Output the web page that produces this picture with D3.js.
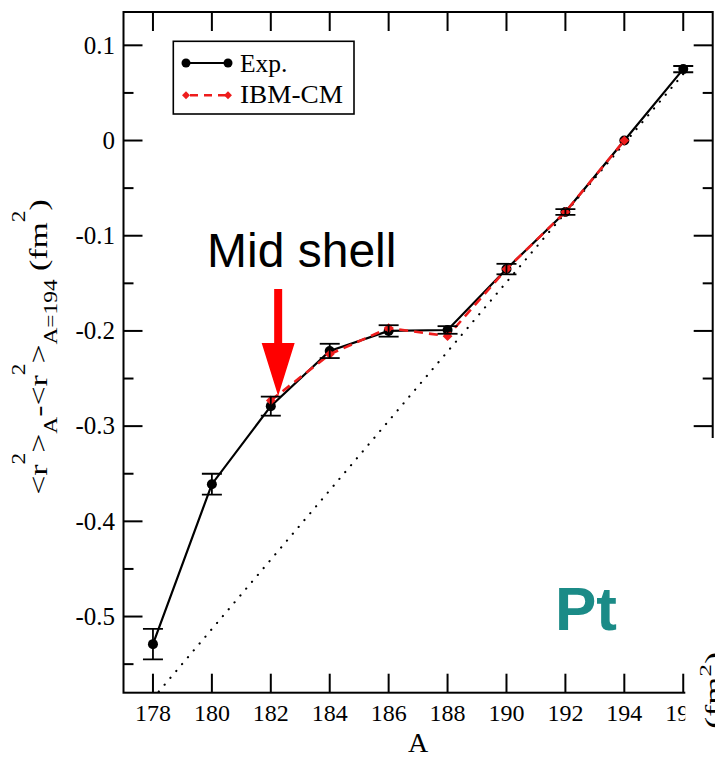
<!DOCTYPE html>
<html>
<head>
<meta charset="utf-8">
<script src="https://cdn.jsdelivr.net/npm/d3@7/dist/d3.min.js"></script>
<style>
  html, body { margin: 0; padding: 0; background: #fff; }
  svg { display: block; }
</style>
</head>
<body>
<svg id="chart" width="715" height="757"></svg>
<script>
// Mass numbers and measured charge-radius differences (relative to A = 194)
const massNumbers = [178, 180, 182, 184, 186, 188, 190, 192, 194, 196];
const expValues   = [-0.529, -0.361, -0.279, -0.221, -0.200, -0.199, -0.135, -0.075, 0.0, 0.075];
const expErrors   = [0.016, 0.011, 0.010, 0.0075, 0.006, 0.004, 0.0055, 0.003, 0.0, 0.0033];

// IBM-CM calculation
const ibmMass   = [182, 184, 186, 188, 190, 192, 194];
const ibmValues = [-0.273, -0.2245, -0.197, -0.2055, -0.135, -0.075, 0.0];

// Linear reference trend (dotted)
const trendMass   = [178, 196];
const trendValues = [-0.586, 0.0698];

// Axis ticks
const xTicks = [178, 180, 182, 184, 186, 188, 190, 192, 194, 196];
const yMajorTicks = [-0.5, -0.4, -0.3, -0.2, -0.1, 0, 0.1];
const yMajorLabels = ["-0.5", "-0.4", "-0.3", "-0.2", "-0.1", "0", "0.1"];
const yMinorTicks = [-0.55, -0.45, -0.35, -0.25, -0.15, -0.05, 0.05];

// Arrow annotation at mid shell (A, tail, head start, tip)
const arrowMass = 182.25;
const arrowValues = { tail: -0.156, headTop: -0.2127, tip: -0.2684 };

(function draw() {
const svg = d3.select("#chart");
const serif = "'Liberation Serif', 'Times New Roman', serif";
const sans = "'Liberation Sans', Arial, sans-serif";
const red = "#ee1c1c";

const pL = 123.5, pR = 712.7, pT = 12, pB = 692.7;
const x = d3.scaleLinear().domain([177, 197]).range([pL, pR]);
const y = d3.scaleLinear().domain([-0.58, 0.135]).range([pB, pT]);

svg.append("defs").append("clipPath").attr("id", "plotClip")
  .append("rect").attr("x", pL).attr("y", pT)
  .attr("width", pR - pL).attr("height", pB - pT);

const plot = svg.append("g").attr("clip-path", "url(#plotClip)");

// dotted linear trend
plot.append("path")
  .datum(trendMass.map((a, i) => [a, trendValues[i]]))
  .attr("d", d3.line().x(d => x(d[0])).y(d => y(d[1])))
  .attr("fill", "none").attr("stroke", "#000").attr("stroke-width", 2.2)
  .attr("stroke-linecap", "round").attr("stroke-dasharray", "0.1,8.9");

// experimental line
const expData = massNumbers.map((a, i) => ({ a, v: expValues[i], e: expErrors[i] }));
plot.append("path").datum(expData)
  .attr("d", d3.line().x(d => x(d.a)).y(d => y(d.v)))
  .attr("fill", "none").attr("stroke", "#000").attr("stroke-width", 2.2);

plot.selectAll("circle.exp").data(expData).enter().append("circle")
  .attr("class", "exp").attr("cx", d => x(d.a)).attr("cy", d => y(d.v))
  .attr("r", 5).attr("fill", "#000");

// IBM-CM dashed line with diamonds
const ibmData = ibmMass.map((a, i) => ({ a, v: ibmValues[i] }));
plot.append("path").datum(ibmData)
  .attr("d", d3.line().x(d => x(d.a)).y(d => y(d.v)))
  .attr("fill", "none").attr("stroke", red).attr("stroke-width", 2.6)
  .attr("stroke-dasharray", "9,6");

const diamond = d3.symbol().type(d3.symbolDiamond2).size(60);
plot.selectAll("path.ibm").data(ibmData).enter().append("path")
  .attr("class", "ibm").attr("d", diamond)
  .attr("transform", d => `translate(${x(d.a)},${y(d.v)})`)
  .attr("fill", red);

// error bars
const eb = plot.selectAll("g.eb").data(expData.filter(d => d.e > 0)).enter().append("g");
eb.append("line")
  .attr("x1", d => x(d.a)).attr("x2", d => x(d.a))
  .attr("y1", d => y(d.v + d.e)).attr("y2", d => y(d.v - d.e))
  .attr("stroke", "#000").attr("stroke-width", 1.8);
[1, -1].forEach(s => {
  eb.append("line")
    .attr("x1", d => x(d.a) - 10).attr("x2", d => x(d.a) + 10)
    .attr("y1", d => y(d.v + s * d.e)).attr("y2", d => y(d.v + s * d.e))
    .attr("stroke", "#000").attr("stroke-width", 1.8);
});

// frame and ticks
svg.append("rect").attr("x", pL).attr("y", pT)
  .attr("width", pR - pL).attr("height", pB - pT)
  .attr("fill", "none").attr("stroke", "#000").attr("stroke-width", 2);

const ticks = svg.append("g").attr("stroke", "#000").attr("stroke-width", 2);
xTicks.forEach(t => {
  ticks.append("line").attr("x1", x(t)).attr("x2", x(t)).attr("y1", pB).attr("y2", pB - 19);
  ticks.append("line").attr("x1", x(t)).attr("x2", x(t)).attr("y1", pT).attr("y2", pT + 19);
});
yMajorTicks.forEach(t => {
  ticks.append("line").attr("x1", pL).attr("x2", pL + 19).attr("y1", y(t)).attr("y2", y(t));
  ticks.append("line").attr("x1", pR).attr("x2", pR - 19).attr("y1", y(t)).attr("y2", y(t));
});
yMinorTicks.forEach(t => {
  ticks.append("line").attr("x1", pL).attr("x2", pL + 10).attr("y1", y(t)).attr("y2", y(t));
  ticks.append("line").attr("x1", pR).attr("x2", pR - 10).attr("y1", y(t)).attr("y2", y(t));
});

// tick labels
svg.append("g").selectAll("text").data(xTicks).enter().append("text")
  .attr("x", d => x(d)).attr("y", 721)
  .attr("text-anchor", "middle").attr("font-family", serif).attr("font-size", 24)
  .text(d => d);

svg.append("g").selectAll("text").data(yMajorTicks).enter().append("text")
  .attr("x", pL - 8.5).attr("y", d => y(d) + 8.3)
  .attr("text-anchor", "end").attr("font-family", serif).attr("font-size", 25)
  .text((d, i) => yMajorLabels[i]);

// x axis title
svg.append("text").attr("x", (pL + pR) / 2).attr("y", 752)
  .attr("text-anchor", "middle").attr("font-family", serif).attr("font-size", 28)
  .text("A");

// y axis title: <r²>_A - <r²>_{A=194} (fm²)
function radiusLabel(g, parts) {
  const t = g.append("text").attr("font-family", serif).attr("text-anchor", "middle").attr("fill", "#000");
  parts.forEach(p => {
    t.append("tspan").attr("font-size", p.size).attr("dy", p.dy).text(p.s);
  });
  return t;
}
const yTitle = svg.append("g").attr("transform", "translate(47,347) rotate(-90) scale(1.3,1)");
radiusLabel(yTitle, [
  { s: "<r", size: 26, dy: 0 },
  { s: "2", size: 18, dy: -22 },
  { s: ">", size: 26, dy: 22 },
  { s: "A", size: 18, dy: 10 },
  { s: "-<r", size: 26, dy: -10 },
  { s: "2", size: 18, dy: -22 },
  { s: ">", size: 26, dy: 22 },
  { s: "A=194", size: 18, dy: 10 },
  { s: " (fm", size: 26, dy: -10 },
  { s: "2", size: 18, dy: -22 },
  { s: ")", size: 26, dy: 22 }
]);

// legend
const lg = svg.append("g");
lg.append("rect").attr("x", 173.3).attr("y", 41.3).attr("width", 180.7).attr("height", 72.7)
  .attr("fill", "#fff").attr("stroke", "#000").attr("stroke-width", 1.6);
lg.append("line").attr("x1", 186).attr("x2", 228).attr("y1", 63).attr("y2", 63)
  .attr("stroke", "#000").attr("stroke-width", 2.2);
[186, 228].forEach(cx => lg.append("circle").attr("cx", cx).attr("cy", 63).attr("r", 4.5).attr("fill", "#000"));
lg.append("line").attr("x1", 186).attr("x2", 228).attr("y1", 95.3).attr("y2", 95.3)
  .attr("stroke", red).attr("stroke-width", 2.6).attr("stroke-dasharray", "8,6").attr("stroke-dashoffset", -4);
[186, 228].forEach(cx => lg.append("path").attr("d", d3.symbol().type(d3.symbolDiamond2).size(40))
  .attr("transform", `translate(${cx},95.3)`).attr("fill", red));
lg.append("text").attr("x", 240).attr("y", 71.5).attr("font-family", serif).attr("font-size", 25.5).text("Exp.");
lg.append("text").attr("x", 240).attr("y", 103.3).attr("font-family", serif).attr("font-size", 25.5)
  .attr("transform", "translate(240,103.3) scale(1.07,1) translate(-240,-103.3)").text("IBM-CM");

// mid-shell annotation
svg.append("text").attr("x", 207).attr("y", 267).attr("font-family", sans).attr("font-size", 48)
  .attr("fill", "#000").text("Mid shell");
const ax = x(arrowMass);
const shaftHalf = 4, headHalf = 16.5;
svg.append("path")
  .attr("d", `M${ax - shaftHalf},${y(arrowValues.tail)} L${ax + shaftHalf},${y(arrowValues.tail)}` +
             ` L${ax + shaftHalf},${y(arrowValues.headTop)} L${ax + headHalf},${y(arrowValues.headTop)}` +
             ` L${ax},${y(arrowValues.tip)} L${ax - headHalf},${y(arrowValues.headTop)}` +
             ` L${ax - shaftHalf},${y(arrowValues.headTop)} Z`)
  .attr("fill", "#ff0000");

// element label
svg.append("text").attr("x", 555).attr("y", 629.5).attr("font-family", sans).attr("font-weight", "bold")
  .attr("font-size", 62).attr("fill", "#1b8b87").text("Pt");

// neighbouring panel edge: blank margin with the start of its axis title
svg.append("rect").attr("x", 685.3).attr("y", 438).attr("width", 40).attr("height", 330).attr("fill", "#fff");
const nextTitle = svg.append("g").attr("transform", "translate(721,652) rotate(-90) scale(1.5,1)");
const nt = nextTitle.append("text").attr("font-family", serif).attr("text-anchor", "end");
nt.append("tspan").attr("font-size", 24).text("(fm");
nt.append("tspan").attr("font-size", 17).attr("dy", -10).text("2");
nt.append("tspan").attr("font-size", 24).attr("dy", 10).text(")");
})();
</script>
</body>
</html>
